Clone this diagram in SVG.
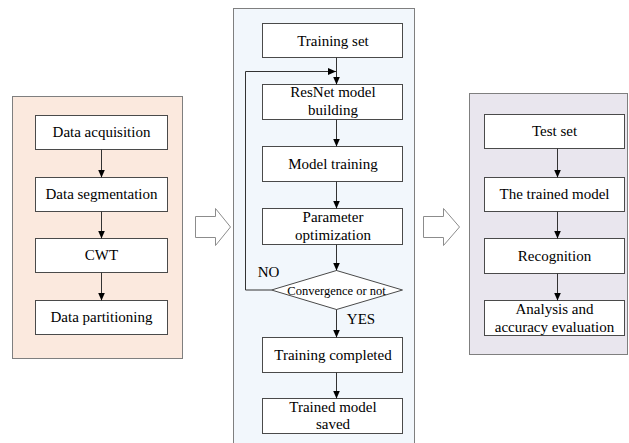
<svg xmlns="http://www.w3.org/2000/svg" width="629" height="443" viewBox="0 0 629 443">
<defs>
<style>
.panel{stroke:#7f7f7f;stroke-width:1}
.box{fill:#ffffff;stroke:#4a4a4a;stroke-width:1}
.t{font-family:'Liberation Serif','DejaVu Serif','Times New Roman',serif;font-size:15px;fill:#000;text-anchor:middle}
.s{font-size:12.5px}
.c{fill:none;stroke:#333;stroke-width:1}
.blk{fill:#fff;stroke:#8c8c8c;stroke-width:1}
</style>
<marker id="ah" markerWidth="8" markerHeight="8" refX="8" refY="4" orient="auto" markerUnits="userSpaceOnUse">
<path d="M0,0.5 L8,4 L0,7.5 Z" fill="#000"/>
</marker>
</defs>
<rect width="629" height="443" fill="#ffffff"/>

<g id="panel-left"><rect class="panel" x="12.5" y="96.5" width="170" height="262" fill="#fbe9de"/></g>
<g id="panel-middle"><rect class="panel" x="233.5" y="8.5" width="181" height="440" fill="#f2f7fc"/></g>
<g id="panel-right"><rect class="panel" x="469.5" y="93.5" width="158" height="261" fill="#e9e6ee"/></g>

<g id="block-arrow-1"><path class="blk" d="M195.5,216.5 H215.5 V208.5 L230.5,227 L215.5,245.5 V237.5 H195.5 Z"/></g>
<g id="block-arrow-2"><path class="blk" d="M423.5,216.5 H443.5 V208.5 L459.5,227 L443.5,245.5 V237.5 H423.5 Z"/></g>

<g font-family="Liberation Serif, DejaVu Serif, serif">
<g id="data-acquisition"><rect class="box" x="35.5" y="115.5" width="132" height="34"/><text class="t" x="101.5" y="137">Data acquisition</text></g>
<g id="data-segmentation"><rect class="box" x="35.5" y="177.5" width="132" height="34"/><text class="t" x="101.5" y="199">Data segmentation</text></g>
<g id="cwt"><rect class="box" x="35.5" y="238.5" width="132" height="34"/><text class="t" x="101.5" y="260">CWT</text></g>
<g id="data-partitioning"><rect class="box" x="35.5" y="300.5" width="132" height="34"/><text class="t" x="101.5" y="322">Data partitioning</text></g>

<g id="training-set"><rect class="box" x="262.5" y="23.5" width="140" height="34"/><text class="t" x="333" y="45.5">Training set</text></g>
<g id="resnet-building"><rect class="box" x="262.5" y="84.5" width="140" height="35"/><text class="t" x="333" y="97">ResNet model</text><text class="t" x="333" y="115">building</text></g>
<g id="model-training"><rect class="box" x="262.5" y="146.5" width="140" height="35"/><text class="t" x="333" y="168.5">Model training</text></g>
<g id="parameter-optimization"><rect class="box" x="262.5" y="208.5" width="140" height="36"/><text class="t" x="333" y="221.5">Parameter</text><text class="t" x="333" y="239.5">optimization</text></g>
<g id="convergence"><path class="box" d="M336.5,270.5 L402.5,290 L336.5,309.5 L271.5,290 Z"/><text class="t s" x="336.5" y="294.5">Convergence or not</text></g>
<g id="training-completed"><rect class="box" x="262.5" y="337.5" width="140" height="35"/><text class="t" x="333" y="360">Training completed</text></g>
<g id="trained-model-saved"><rect class="box" x="262.5" y="398.5" width="140" height="35"/><text class="t" x="333" y="411.5">Trained model</text><text class="t" x="333" y="429">saved</text></g>

<g id="test-set"><rect class="box" x="484.5" y="114.5" width="140" height="34"/><text class="t" x="554.5" y="136">Test set</text></g>
<g id="trained-model"><rect class="box" x="484.5" y="177.5" width="140" height="34"/><text class="t" x="554.5" y="199">The trained model</text></g>
<g id="recognition"><rect class="box" x="484.5" y="238.5" width="140" height="35"/><text class="t" x="554.5" y="261">Recognition</text></g>
<g id="analysis"><rect class="box" x="484.5" y="300.5" width="140" height="35"/><text class="t" x="554.5" y="313.5">Analysis and</text><text class="t" x="554.5" y="331.5">accuracy evaluation</text></g>

<g id="connectors">
<line class="c" x1="101.5" y1="149.5" x2="101.5" y2="177.5" marker-end="url(#ah)"/>
<line class="c" x1="101.5" y1="211.5" x2="101.5" y2="238.5" marker-end="url(#ah)"/>
<line class="c" x1="101.5" y1="272.5" x2="101.5" y2="300.5" marker-end="url(#ah)"/>

<line class="c" x1="336.5" y1="57.5" x2="336.5" y2="84.5" marker-end="url(#ah)"/>
<polyline class="c" points="271.5,290 245.5,290 245.5,71.5 336,71.5" marker-end="url(#ah)"/>
<line class="c" x1="336.5" y1="119.5" x2="336.5" y2="146.5" marker-end="url(#ah)"/>
<line class="c" x1="336.5" y1="181.5" x2="336.5" y2="208.5" marker-end="url(#ah)"/>
<line class="c" x1="336.5" y1="244.5" x2="336.5" y2="270.5" marker-end="url(#ah)"/>
<line class="c" x1="336.5" y1="309.5" x2="336.5" y2="337.5" marker-end="url(#ah)"/>
<line class="c" x1="336.5" y1="372.5" x2="336.5" y2="398.5" marker-end="url(#ah)"/>
<text class="t" x="268.5" y="277">NO</text>
<text class="t" x="361" y="323.5">YES</text>

<line class="c" x1="557.5" y1="148.5" x2="557.5" y2="177.5" marker-end="url(#ah)"/>
<line class="c" x1="557.5" y1="211.5" x2="557.5" y2="238.5" marker-end="url(#ah)"/>
<line class="c" x1="557.5" y1="273.5" x2="557.5" y2="300.5" marker-end="url(#ah)"/>
</g>
</g>
</svg>
